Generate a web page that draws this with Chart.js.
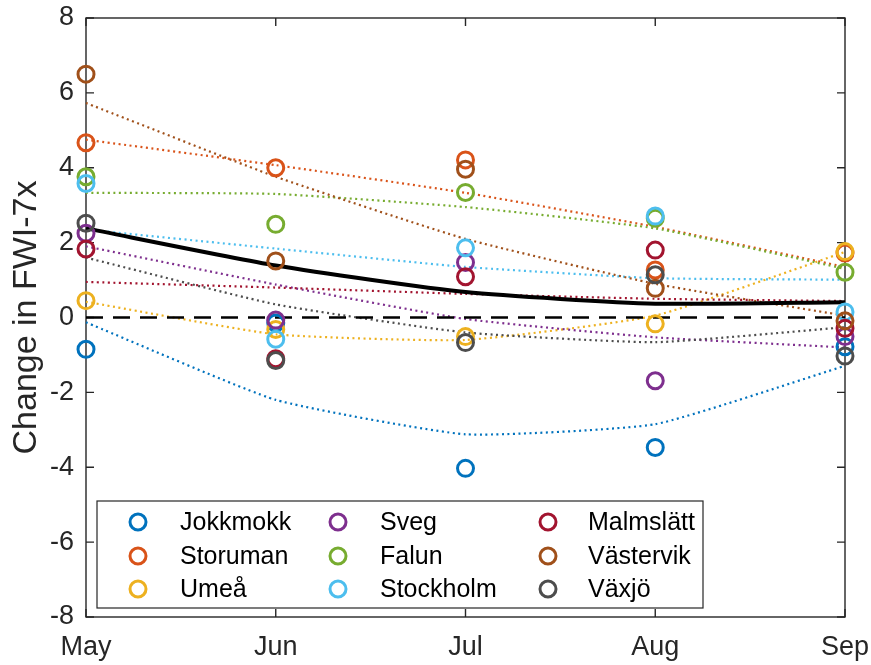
<!DOCTYPE html>
<html>
<head>
<meta charset="utf-8">
<script src="https://cdn.jsdelivr.net/npm/chart.js@4/dist/chart.umd.min.js"></script>
<style>
  html, body { margin: 0; padding: 0; background: #fff; }
  #wrap { width: 871px; height: 665px; position: relative; }
</style>
</head>
<body>
<div id="wrap"><canvas id="c" width="871" height="665"></canvas></div>
<script>
// ---- data ----
const months = ['May', 'Jun', 'Jul', 'Aug', 'Sep'];
const yTicks = [-8, -6, -4, -2, 0, 2, 4, 6, 8];
const stations = ['Jokkmokk', 'Storuman', 'Umeå', 'Sveg', 'Falun', 'Stockholm', 'Malmslätt', 'Västervik', 'Växjö'];
const stationColors = ['#0072BD', '#D95319', '#EDB120', '#7E2F8E', '#77AC30', '#4DBEEE', '#A2142F', '#A0501A', '#4D4D4D'];

// observed monthly change per station
const jokkmokk  = [-0.85, -0.15, -4.03, -3.47, -0.78];
const storuman  = [4.67, 4.00, 4.21, 1.27, 1.72];
const umea      = [0.45, -0.32, -0.51, -0.17, 1.76];
const sveg      = [2.25, -0.07, 1.47, -1.69, -0.51];
const falun     = [3.76, 2.49, 3.34, 2.65, 1.21];
const stockholm = [3.58, -0.58, 1.86, 2.71, 0.15];
const malmslatt = [1.83, -1.10, 1.09, 1.80, -0.29];
const vastervik = [6.50, 1.51, 3.96, 0.78, -0.09];
const vaxjo     = [2.52, -1.15, -0.67, 1.14, -1.03];

// fitted trend per station (dotted)
const jokkmokkFit  = [-0.13, -2.20, -3.12, -2.85, -1.29];
const storumanFit  = [4.75, 4.07, 3.33, 2.42, 1.35];
const umeaFit      = [0.42, -0.45, -0.60, 0.05, 1.75];
const svegFit      = [1.90, 0.88, -0.04, -0.53, -0.80];
const falunFit     = [3.33, 3.30, 2.95, 2.38, 1.30];
const stockholmFit = [2.35, 1.84, 1.35, 1.05, 1.01];
const malmslattFit = [0.95, 0.80, 0.63, 0.50, 0.44];
const vastervikFit = [5.73, 3.76, 2.10, 0.90, 0.05];
const vaxjoFit     = [1.60, 0.35, -0.40, -0.66, -0.26];

// mean trend (solid black) and zero reference
const meanTrend = [2.38, 1.39, 0.68, 0.37, 0.41];
const zeroLine  = [0, 0, 0, 0, 0];

const observed = [jokkmokk, storuman, umea, sveg, falun, stockholm, malmslatt, vastervik, vaxjo];
const fitted   = [jokkmokkFit, storumanFit, umeaFit, svegFit, falunFit, stockholmFit, malmslattFit, vastervikFit, vaxjoFit];

// ---- chart ----
Chart.defaults.font.family = "'Liberation Sans', Arial, Helvetica, sans-serif";
Chart.defaults.color = '#262626';

const datasets = [];
stations.forEach((name, i) => {
  datasets.push({
    label: name + ' trend',
    data: fitted[i],
    borderColor: stationColors[i],
    borderWidth: 2.2,
    borderDash: [2, 3.5],
    pointRadius: 0,
    tension: 0.15,
    fill: false,
    order: 30 - i
  });
});
datasets.push({
  label: 'Mean', data: meanTrend, borderColor: '#000', borderWidth: 4,
  pointRadius: 0, tension: 0.2, fill: false, order: 15
});
datasets.push({
  label: 'Zero', data: zeroLine, borderColor: '#000', borderWidth: 2.5,
  borderDash: [17, 10], pointRadius: 0, fill: false, order: 14
});
stations.forEach((name, i) => {
  datasets.push({
    label: name,
    data: observed[i],
    showLine: false,
    pointRadius: 8,
    pointHoverRadius: 8,
    pointBorderWidth: 3,
    pointBackgroundColor: 'rgba(0,0,0,0)',
    pointBorderColor: stationColors[i],
    borderColor: stationColors[i],
    clip: false,
    order: -i
  });
});

const boxPlugin = {
  id: 'box',
  beforeDatasetsDraw(chart) {
    const ctx = chart.ctx;
    const { left, right, top, bottom } = chart.chartArea;
    const xs = chart.scales.x, ys = chart.scales.y;
    ctx.save();
    ctx.strokeStyle = '#262626';
    ctx.lineWidth = 1.4;
    ctx.strokeRect(left, top, right - left, bottom - top);
    ctx.beginPath();
    months.forEach((m, i) => {
      const x = xs.getPixelForValue(i);
      ctx.moveTo(x, bottom); ctx.lineTo(x, bottom - 8);
      ctx.moveTo(x, top); ctx.lineTo(x, top + 8);
    });
    yTicks.forEach(v => {
      const y = ys.getPixelForValue(v);
      ctx.moveTo(left, y); ctx.lineTo(left + 8, y);
      ctx.moveTo(right, y); ctx.lineTo(right - 8, y);
    });
    ctx.stroke();
    ctx.restore();
  }
};

const legendPlugin = {
  id: 'customLegend',
  afterDraw(chart) {
    const ctx = chart.ctx;
    ctx.save();
    const bx = 97, by = 501, bw = 606, bh = 107;
    ctx.fillStyle = '#fff';
    ctx.fillRect(bx, by, bw, bh);
    ctx.strokeStyle = '#262626';
    ctx.lineWidth = 1.2;
    ctx.strokeRect(bx, by, bw, bh);
    const colMarker = [138, 338, 548];
    const colText = [180, 380, 588];
    const rowY = [522, 556, 589];
    ctx.font = "25px 'Liberation Sans', Arial, sans-serif";
    ctx.textBaseline = 'middle';
    ctx.textAlign = 'left';
    stations.forEach((name, i) => {
      const c = Math.floor(i / 3), r = i % 3;
      ctx.beginPath();
      ctx.arc(colMarker[c], rowY[r], 8, 0, Math.PI * 2);
      ctx.strokeStyle = stationColors[i];
      ctx.lineWidth = 3;
      ctx.stroke();
      ctx.fillStyle = '#000';
      ctx.fillText(name, colText[c], rowY[r] + 1);
    });
    ctx.restore();
  }
};

new Chart(document.getElementById('c'), {
  type: 'line',
  data: { labels: months, datasets },
  options: {
    responsive: false,
    animation: false,
    devicePixelRatio: 1,
    layout: { padding: { top: 18, right: 26, left: 0, bottom: 0 } },
    plugins: { legend: { display: false }, tooltip: { enabled: false } },
    scales: {
      x: {
        type: 'category',
        offset: false,
        grid: { display: false, drawTicks: false },
        border: { display: false },
        ticks: { font: { size: 27 }, color: '#262626', padding: 14, maxRotation: 0, autoSkip: false },
        afterFit(s) { s.height = 48; s.paddingLeft = 0; s.paddingRight = 0; }
      },
      y: {
        min: -8, max: 8,
        grid: { display: false, drawTicks: false },
        border: { display: false },
        ticks: { stepSize: 2, font: { size: 27 }, color: '#262626', padding: 12 },
        title: { display: true, text: 'Change in FWI-7x', font: { size: 34 }, color: '#262626', padding: { top: 6, bottom: 0 } },
        afterFit(s) { s.width = 86; s.paddingTop = 0; s.paddingBottom = 0; }
      }
    }
  },
  plugins: [boxPlugin, legendPlugin]
});
</script>
</body>
</html>
